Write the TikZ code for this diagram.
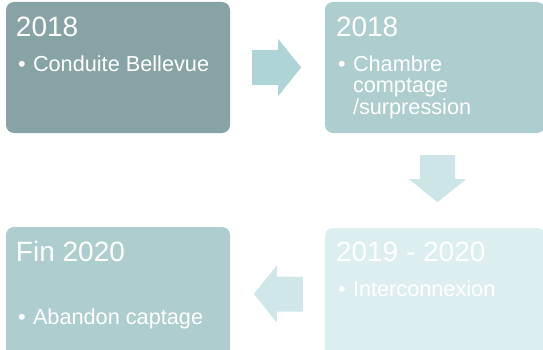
\documentclass[tikz,border=0pt]{standalone}
\usepackage{fontspec}
\setmainfont{Liberation Sans}
\usepackage{tikz}
\usetikzlibrary{calc}

\definecolor{stagedark}{HTML}{88A3A6}
\definecolor{stagemid}{HTML}{ADCDCF}
\definecolor{stagepale}{HTML}{DCEEF0}
\definecolor{flowa}{HTML}{AFD4D7}
\definecolor{flowb}{HTML}{CDE5E7}
\definecolor{flowc}{HTML}{D0E7E9}

\begin{document}
\begin{tikzpicture}[x=1pt,y=-1pt,
    stage/.style={rectangle,rounded corners=8pt,inner sep=0pt,minimum width=224pt,minimum height=131pt},
    year/.style={anchor=base west,inner sep=0pt,text=white,font=\fontsize{28}{28}\selectfont},
    dot/.style={anchor=base west,inner sep=0pt,text=white,font=\fontsize{21.7}{21}\selectfont},
    item/.style={anchor=base west,inner sep=0pt,text=white,font=\fontsize{21.7}{21}\selectfont}]
    \useasboundingbox (0,0) rectangle (543,350);
    \clip (0,0) rectangle (543,350);
    \node[stage,fill=stagedark] (s1) at (118,67.5) {};
    \node[stage,fill=stagemid,minimum width=220pt] (s2) at (435,67.5) {};
    \node[stage,fill=stagepale,minimum width=220pt] (s3) at (435,293.5) {};
    \node[stage,fill=stagemid] (s4) at (118,292.5) {};
    \fill[flowa] ($(s1.east)+(22,-17.5)$) -- ++(26,0) -- ++(0,-11) -- ++(23,28.5) -- ++(-23,28.5) -- ++(0,-11) -- ++(-26,0) -- cycle;
    \fill[flowb] ($(s2.south)+(-15,22)$) -- ++(0,24) -- ++(-11,0) -- ++(28.5,23) -- ++(28.5,-23) -- ++(-11,0) -- ++(0,-24) -- cycle;
    \fill[flowc] ($(s3.west)+(-22,-17)$) -- ++(-26,0) -- ++(0,-11) -- ++(-23,28.5) -- ++(23,28.5) -- ++(0,-11) -- ++(26,0) -- cycle;
    \node[year] (y1) at ($(s1.north west)+(10,35)$) {2018};
    \node[dot] (b1) at ($(s1.north west)+(12,70)$) {\textbullet};
    \node[item] (t1) at ($(s1.north west)+(27,70)$) {Conduite Bellevue};
    \node[year] (y2) at ($(s2.north west)+(11,35)$) {2018};
    \node[dot] (b2) at ($(s2.north west)+(13,70)$) {\textbullet};
    \node[item] (t2) at ($(s2.north west)+(28,70)$) {\begin{tabular}[t]{@{}l@{}}Chambre\\comptage\\/surpression\end{tabular}};
    \node[year] (y3) at ($(s3.north west)+(11,34)$) {2019 - 2020};
    \node[dot] (b3) at ($(s3.north west)+(13,69)$) {\textbullet};
    \node[item] (t3) at ($(s3.north west)+(28,69)$) {Interconnexion};
    \node[year] (y4) at ($(s4.north west)+(10,35)$) {Fin 2020};
    \node[dot] (b4) at ($(s4.north west)+(12,98)$) {\textbullet};
    \node[item] (t4) at ($(s4.north west)+(27,98)$) {Abandon captage};
\end{tikzpicture}
\end{document}
